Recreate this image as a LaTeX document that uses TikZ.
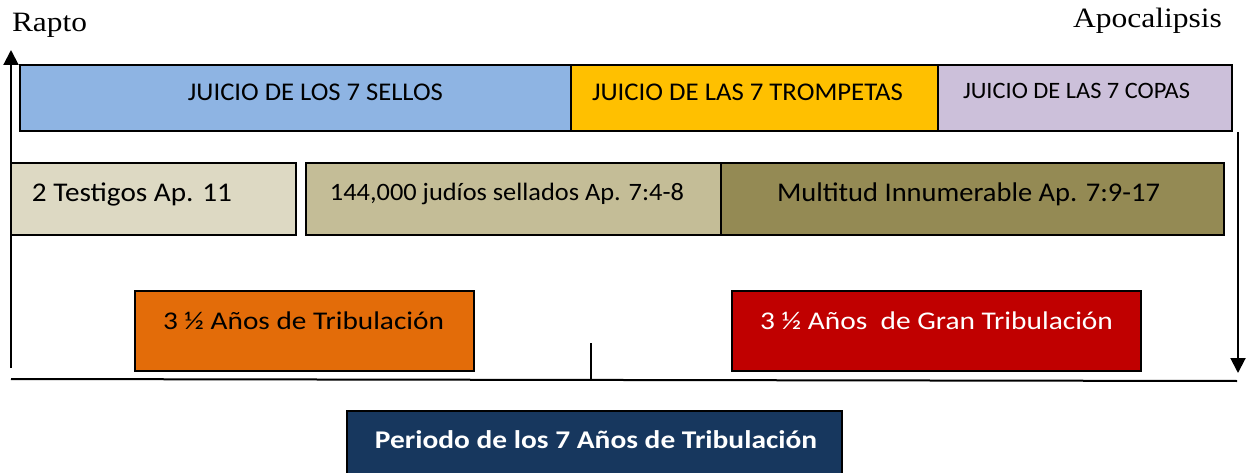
\documentclass[tikz,border=0pt]{standalone}
\usepackage{graphicx}
\usepackage{fontspec}
\setmainfont{Carlito}
\newfontfamily\timesf{Liberation Serif}
\usetikzlibrary{arrows.meta}
\newcommand\fitw[2]{\resizebox{#1}{\height}{#2}}
\definecolor{sellos}{HTML}{8EB4E3}
\definecolor{tromp}{HTML}{FFC000}
\definecolor{copas}{HTML}{CCC0DA}
\definecolor{testig}{HTML}{DDD9C3}
\definecolor{judios}{HTML}{C4BD97}
\definecolor{multi}{HTML}{948A54}
\definecolor{naranja}{HTML}{E36C09}
\definecolor{rojo}{HTML}{C00000}
\definecolor{marino}{HTML}{17375E}
\begin{document}
\begin{tikzpicture}[x=1pt,y=-1pt,
  box/.style={draw=black, line width=1.4pt, rectangle, inner sep=0pt},
  lbl/.style={anchor=base, inner sep=0pt},
  arr/.style={line width=2pt, -{Triangle[length=15pt,width=15pt]}},
  rule/.style={line width=2pt}]
\useasboundingbox (0,0) rectangle (1248,473);
% top row
\node[box, fill=sellos, minimum width=551pt, minimum height=66pt] (s) at (295.5,98) {};
\node[box, fill=tromp, minimum width=367pt, minimum height=66pt] (t) at (754.5,98) {};
\node[box, fill=copas, minimum width=294pt, minimum height=66pt] (c) at (1085,98) {};
\node[lbl] (st) at (315.5,101) {\fontsize{25.5}{30}\selectfont\fitw{255pt}{JUICIO DE LOS 7 SELLOS}};
\node[lbl] (tt) at (747.5,101) {\fontsize{25.5}{30}\selectfont\fitw{311pt}{JUICIO DE LAS 7 TROMPETAS}};
\node[lbl] (ct) at (1076.5,99) {\fontsize{23.5}{28}\selectfont\fitw{227pt}{JUICIO DE LAS 7 COPAS}};
% second row
\node[box, fill=testig, minimum width=285pt, minimum height=72pt] (w) at (153.5,199) {};
\node[box, fill=judios, minimum width=415pt, minimum height=72pt] (j) at (513.5,199) {};
\node[box, fill=multi, minimum width=503pt, minimum height=72pt] (m) at (972.5,199) {};
\node[lbl] (wt) at (132,202) {\fontsize{27}{30}\selectfont\fitw{200pt}{2 Testigos Ap. 11}};
\node[lbl] (jt) at (507,201) {\fontsize{25}{30}\selectfont\fitw{354pt}{144,000 judíos sellados Ap. 7:4-8}};
\node[lbl] (mt) at (968.5,202) {\fontsize{27}{30}\selectfont\fitw{383pt}{Multitud Innumerable Ap. 7:9-17}};
% third row
\node[box, fill=naranja, minimum width=339pt, minimum height=80pt] (o) at (304.5,331) {};
\node[box, fill=rojo, minimum width=409pt, minimum height=80pt] (r) at (936.5,331) {};
\node[lbl] (ot) at (303.5,330) {\fontsize{25.5}{30}\selectfont\fitw{281pt}{3 ½ Años de Tribulación}};
\node[lbl, text=white] (rt) at (936.5,330) {\fontsize{25.5}{30}\selectfont\fitw{353pt}{3 ½ Años\ \ de Gran Tribulación}};
% bottom box
\node[box, fill=marino, minimum width=495pt, minimum height=64pt] (p) at (594.5,443) {};
\node[lbl, text=white] (pt) at (596,448) {\fontsize{25.5}{30}\selectfont\bfseries\fitw{442pt}{Periodo de los 7 Años de Tribulación}};
% titles
\node[lbl] (rapto) at (49.5,32) {\timesf\fontsize{28}{30}\selectfont\fitw{75pt}{Rapto}};
\node[lbl] (apoc) at (1147.5,28) {\timesf\fontsize{28}{30}\selectfont\fitw{149pt}{Apocalipsis}};
% axis lines
\coordinate (la0) at (11,368);
\coordinate (la1) at (11,50);
\coordinate (ra0) at (1238,132);
\coordinate (ra1) at (1238,373);
\coordinate (b0) at (11,379);
\coordinate (b1) at (1237,381);
\coordinate (k0) at (591,343);
\coordinate (k1) at (591,380);
\draw[arr] (la0) -- (la1);
\draw[arr] (ra0) -- (ra1);
\draw[rule] (b0) -- (b1);
\draw[line width=1.5pt] (k0) -- (k1);
\end{tikzpicture}
\end{document}
